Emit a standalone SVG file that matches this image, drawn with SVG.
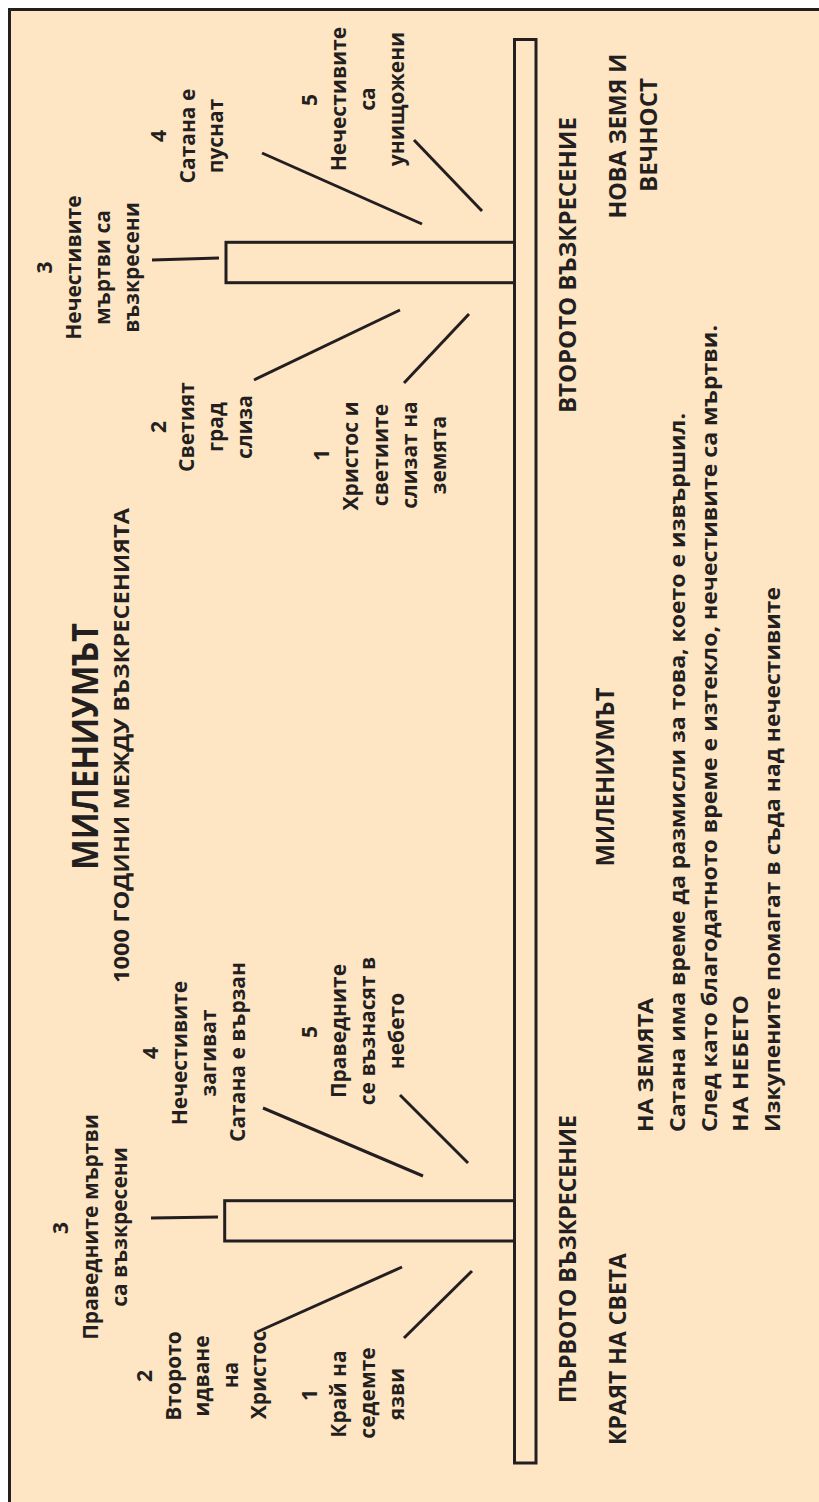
<svg xmlns="http://www.w3.org/2000/svg" width="819" height="1502" viewBox="0 0 819 1502">
<style>
.t{font-family:"Open Sans","Noto Sans","DejaVu Sans",sans-serif;font-weight:700;fill:#231f20}
.lbl{font-size:21px;text-anchor:middle}
.hd{font-size:24px;text-anchor:middle}
.par{font-size:22px;text-anchor:start}
.ln{stroke:#231f20;stroke-width:3;fill:none}
.bar{stroke:#231f20;stroke-width:3;fill:#fee5c4}
</style>
<rect x="0" y="0" width="819" height="1502" fill="#ffffff"/>
<rect x="9.5" y="9.5" width="830" height="1520" fill="#fee5c4" stroke="#231f20" stroke-width="3"/>

<g id="timeline">
  <rect class="bar" x="226" y="242.3" width="288.5" height="40.4"/>
  <rect class="bar" x="224.7" y="1200.7" width="289.8" height="40.3"/>
  <rect class="bar" x="514.5" y="39.5" width="21.5" height="1423.5"/>
</g>

<g id="connectors">
  <line class="ln" x1="152" y1="260" x2="219" y2="258"/>
  <line class="ln" x1="262" y1="153" x2="422" y2="224"/>
  <line class="ln" x1="414" y1="140" x2="482" y2="211"/>
  <line class="ln" x1="254" y1="380" x2="400" y2="310"/>
  <line class="ln" x1="404" y1="383" x2="469" y2="314"/>
  <line class="ln" x1="151" y1="1218" x2="218" y2="1217"/>
  <line class="ln" x1="263" y1="1108" x2="423" y2="1176"/>
  <line class="ln" x1="400" y1="1095" x2="468" y2="1163"/>
  <line class="ln" x1="257" y1="1332" x2="402" y2="1267"/>
  <line class="ln" x1="404" y1="1338" x2="472" y2="1271"/>
</g>

<g id="title" class="t" transform="rotate(-90)" text-anchor="middle">
  <text x="-746.5" y="98" font-size="35" textLength="247" lengthAdjust="spacingAndGlyphs">МИЛЕНИУМЪТ</text>
  <text x="-745.5" y="129" font-size="22" textLength="475" lengthAdjust="spacingAndGlyphs">1000 ГОДИНИ МЕЖДУ ВЪЗКРЕСЕНИЯТА</text>
</g>

<g id="node-t3" class="t lbl" transform="rotate(-90)">
  <text x="-267.5" y="52">3</text>
  <text x="-267.5" y="81">Нечестивите</text>
  <text x="-267.5" y="110">мъртви са</text>
  <text x="-267.5" y="139">възкресени</text>
</g>
<g id="node-t4" class="t lbl" transform="rotate(-90)">
  <text x="-136" y="166">4</text>
  <text x="-136" y="195">Сатана е</text>
  <text x="-136" y="223">пуснат</text>
</g>
<g id="node-t5" class="t lbl" transform="rotate(-90)">
  <text x="-100" y="317">5</text>
  <text x="-99" y="346">Нечестивите</text>
  <text x="-99" y="375">са</text>
  <text x="-99" y="404">унищожени</text>
</g>
<g id="node-t2" class="t lbl" transform="rotate(-90)">
  <text x="-427" y="166">2</text>
  <text x="-427" y="194">Светият</text>
  <text x="-427" y="223">град</text>
  <text x="-427" y="252">слиза</text>
</g>
<g id="node-t1" class="t lbl" transform="rotate(-90)">
  <text x="-455" y="329">1</text>
  <text x="-456" y="358">Христос и</text>
  <text x="-455" y="388">светиите</text>
  <text x="-455" y="417">слизат на</text>
  <text x="-455" y="446">земята</text>
</g>

<g id="node-b3" class="t lbl" transform="rotate(-90)">
  <text x="-1228" y="68">3</text>
  <text x="-1227" y="98">Праведните мъртви</text>
  <text x="-1227" y="127">са възкресени</text>
</g>
<g id="node-b4" class="t lbl" transform="rotate(-90)">
  <text x="-1053" y="158">4</text>
  <text x="-1053" y="187">Нечестивите</text>
  <text x="-1053" y="216">загиват</text>
  <text x="-1052" y="245">Сатана е вързан</text>
</g>
<g id="node-b5" class="t lbl" transform="rotate(-90)">
  <text x="-1032" y="317">5</text>
  <text x="-1031" y="346">Праведните</text>
  <text x="-1031" y="375">се възнасят в</text>
  <text x="-1031" y="404">небето</text>
</g>
<g id="node-b2" class="t lbl" transform="rotate(-90)">
  <text x="-1376" y="152">2</text>
  <text x="-1376" y="181">Второто</text>
  <text x="-1376" y="209">идване</text>
  <text x="-1375" y="238">на</text>
  <text x="-1375" y="266">Христос</text>
</g>
<g id="node-b1" class="t lbl" transform="rotate(-90)">
  <text x="-1395" y="317">1</text>
  <text x="-1394" y="346">Край на</text>
  <text x="-1393" y="375">седемте</text>
  <text x="-1394" y="404">язви</text>
</g>

<g id="second-resurrection" class="t hd" transform="rotate(-90)">
  <text x="-265" y="576" textLength="296" lengthAdjust="spacingAndGlyphs">ВТОРОТО ВЪЗКРЕСЕНИЕ</text>
</g>
<g id="new-earth" class="t hd" transform="rotate(-90)">
  <text x="-136" y="626" textLength="165" lengthAdjust="spacingAndGlyphs">НОВА ЗЕМЯ И</text>
  <text x="-135" y="657" textLength="114" lengthAdjust="spacingAndGlyphs">ВЕЧНОСТ</text>
</g>
<g id="millennium" class="t hd" transform="rotate(-90)">
  <text x="-777" y="614" font-size="25" textLength="179" lengthAdjust="spacingAndGlyphs">МИЛЕНИУМЪТ</text>
</g>
<g id="first-resurrection" class="t hd" transform="rotate(-90)">
  <text x="-1259" y="576" textLength="288" lengthAdjust="spacingAndGlyphs">ПЪРВОТО ВЪЗКРЕСЕНИЕ</text>
</g>
<g id="end-of-world" class="t hd" transform="rotate(-90)">
  <text x="-1349" y="626" textLength="192" lengthAdjust="spacingAndGlyphs">КРАЯТ НА СВЕТА</text>
</g>
<g id="description" class="t par" transform="rotate(-90)">
  <text x="-1132" y="653" textLength="134" lengthAdjust="spacingAndGlyphs">НА ЗЕМЯТА</text>
  <text x="-1132" y="685" textLength="719" lengthAdjust="spacingAndGlyphs">Сатана има време да размисли за това, което е извършил.</text>
  <text x="-1132" y="717" textLength="807" lengthAdjust="spacingAndGlyphs">След като благодатното време е изтекло, нечестивите са мъртви.</text>
  <text x="-1132" y="748" textLength="137" lengthAdjust="spacingAndGlyphs">НА НЕБЕТО</text>
  <text x="-1132" y="780" textLength="545" lengthAdjust="spacingAndGlyphs">Изкупените помагат в съда над нечестивите</text>
</g>
</svg>
